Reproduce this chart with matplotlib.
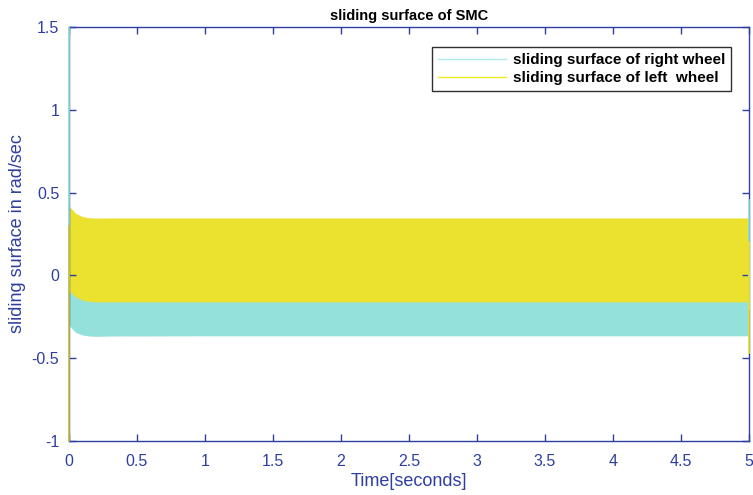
import matplotlib
matplotlib.use("Agg")
import matplotlib.pyplot as plt
from matplotlib.lines import Line2D

plt.rcParams['font.family'] = ['Liberation Sans', 'DejaVu Sans']

# envelope of the chattering signals
t_env = [0.0, 0.02, 0.05, 0.1, 0.15, 0.2, 0.3, 1.0, 2.0, 3.0, 4.0, 5.0]
left_hi = [0.42, 0.40, 0.375, 0.355, 0.348, 0.346, 0.347, 0.347, 0.347, 0.347, 0.347, 0.347]
left_lo = [-0.09, -0.11, -0.13, -0.15, -0.157, -0.16, -0.16, -0.16, -0.16, -0.16, -0.16, -0.16]
right_hi = [-0.05, -0.06, -0.08, -0.10, -0.11, -0.11, -0.11, -0.11, -0.11, -0.11, -0.11, -0.11]
right_lo = [-0.30, -0.32, -0.345, -0.36, -0.366, -0.368, -0.366, -0.365, -0.365, -0.365, -0.365, -0.365]

# initial / final spikes
right_start_t = [0.0, 0.0]
right_start_v = [1.5, -0.1]
left_start_t = [0.0, 0.0]
left_start_v = [-1.0, 0.3]
right_end_t = [5.0, 5.0]
right_end_v = [0.455, -0.2]
left_end_t = [5.0, 5.0]
left_end_v = [0.2, -0.467]

x_ticks = [0, 0.5, 1, 1.5, 2, 2.5, 3, 3.5, 4, 4.5, 5]
x_labels = ['0', '0.5', '1', '1.5', '2', '2.5', '3', '3.5', '4', '4.5', '5']
y_ticks = [-1, -0.5, 0, 0.5, 1, 1.5]
y_labels = ['-1', '-0.5', '0', '0.5', '1', '1.5']

cyan = '#94e0da'
yellow = '#ebe12f'
axcol = '#2f3f9f'

fig = plt.figure(figsize=(7.53, 4.95), dpi=100)
ax = fig.add_axes([69/753, 1-441/495, 680/753, 414/495])

ax.fill_between(t_env, right_lo, right_hi, color=cyan, lw=0)
ax.fill_between(t_env, left_lo, left_hi, color=yellow, lw=0)
ax.plot(right_start_t, right_start_v, color=cyan, lw=1.2, clip_on=False, zorder=3)
ax.plot(left_start_t, left_start_v, color='#c8c040', lw=1.2, clip_on=False, zorder=3)
ax.plot(right_end_t, right_end_v, color=cyan, lw=1.2, clip_on=False, zorder=3)
ax.plot(left_end_t, left_end_v, color=yellow, lw=1.2, clip_on=False, zorder=3)

ax.set_xlim(0, 5)
ax.set_ylim(-1, 1.5)
ax.set_xticks(x_ticks)
ax.set_xticklabels(x_labels)
ax.set_yticks(y_ticks)
ax.set_yticklabels(y_labels)
ax.tick_params(direction='in', length=5, width=1, colors=axcol, labelsize=11.5,
               top=True, right=True, labelcolor=axcol)
ax.tick_params(axis='x', pad=9)
ax.tick_params(axis='y', pad=7)
for s in ax.spines.values():
    s.set_color(axcol)
    s.set_linewidth(1)

ax.set_xlabel('Time[seconds]', color=axcol, fontsize=13, labelpad=3)
ax.set_ylabel('sliding surface in rad/sec', color=axcol, fontsize=13, labelpad=4)
ax.set_title('sliding surface of SMC', fontsize=10.5, fontweight='bold', pad=5)

handles = [Line2D([], [], color='#b0eaea', lw=1),
           Line2D([], [], color='#f2ea20', lw=1)]
leg = ax.legend(handles, ['sliding surface of right wheel', 'sliding surface of left  wheel'],
                loc='upper right', bbox_to_anchor=(731/753, 1-47/495),
                bbox_transform=fig.transFigure, borderaxespad=0,
                prop={'weight': 'bold', 'size': 11}, fancybox=False,
                handlelength=4.4, handletextpad=0.45, labelspacing=0.25,
                borderpad=0.4, framealpha=1, edgecolor='#303030', shadow=False)
leg.get_frame().set_linewidth(1.0)

fig.savefig('out.png', dpi=100)
